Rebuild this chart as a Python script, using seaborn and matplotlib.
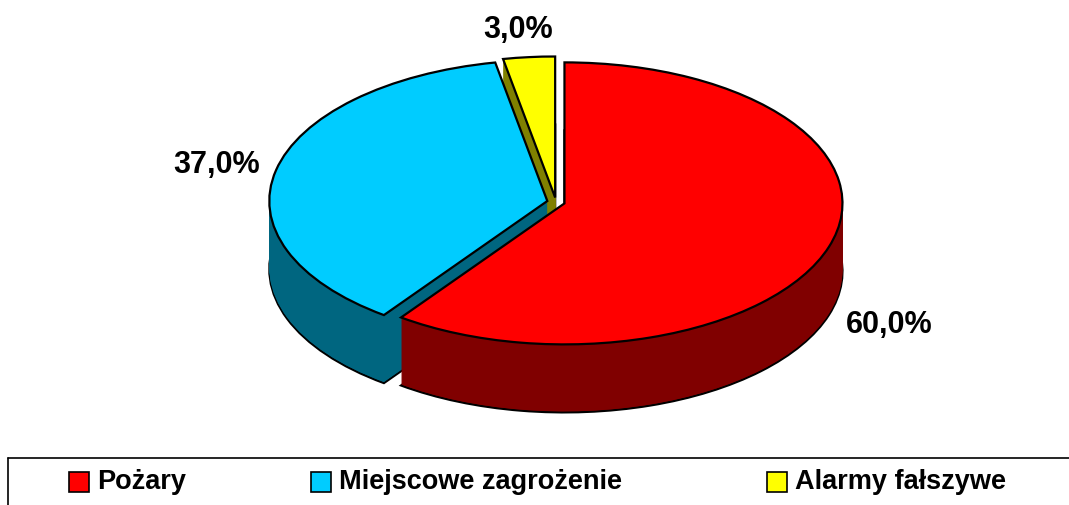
import matplotlib
matplotlib.use("Agg")
import matplotlib.pyplot as plt
import seaborn as sns
from matplotlib.patches import Rectangle

categories = ["Pożary", "Miejscowe zagrożenie", "Alarmy fałszywe"]
shares = [60.0, 37.0, 3.0]
top_colors = ["#ff0000", "#00ccff", "#ffff00"]
side_colors = ["#800000", "#006680", "#808000"]

sns.set_theme(style="white")
plt.rcParams['font.family'] = ['Liberation Sans', 'DejaVu Sans']

W, H = 1069, 506
fig = plt.figure(figsize=(W / 100, H / 100), dpi=100)
ax = fig.add_axes([0, 0, 1, 1])

rx, ry = 278.0, 141.0
cx, cy = 556.0, 203.0
depth = 68
explode = [0.032, 0.032, 0.032]

xlim = (-cx / rx, (W - cx) / rx)
ylim = ((cy - H) / ry, cy / ry)

# wedges go back to front so the red one covers the others
for i in [2, 1, 0]:
    vals = [shares[i], 100 - shares[i]]
    start = 90 - sum(shares[:i]) * 3.6
    for d in range(depth, -1, -1):
        top = d == 0
        edge = "black" if (top or d == depth) else "none"
        wedges, _ = ax.pie(vals, startangle=start, counterclock=False, radius=1,
                           center=(0, -d / ry), explode=[explode[i], 0],
                           colors=[top_colors[i] if top else side_colors[i], "none"],
                           wedgeprops=dict(linewidth=1.6 if edge == "black" else 0, edgecolor=edge),
                           frame=True)
        wedges[1].set_visible(False)

ax.set_aspect("auto")
ax.set_xlim(xlim)
ax.set_ylim(ylim)
ax.set_xticks([])
ax.set_yticks([])
ax.axis("off")

def px_text(x, y, s, size, ha="center"):
    fig.text(x / W, 1 - y / H, s, fontsize=size, fontweight="bold", ha=ha, va="center", color="black")

label_pos = [(889, 325), (217, 165), (518, 30)]
for (x, y), v in zip(label_pos, shares):
    px_text(x, y, f"{v:.1f}%".replace(".", ","), 22)

# legend box, open at the bottom and the right like the original
fig.add_artist(plt.Line2D([8 / W, 1], [1 - 459 / H, 1 - 459 / H], color="black", lw=1.2))
fig.add_artist(plt.Line2D([8 / W, 8 / W], [1 - 459 / H, 0], color="black", lw=1.2))
swatch_x = [69, 311, 767]
for x, name, c in zip(swatch_x, categories, top_colors):
    fig.add_artist(Rectangle((x / W, 1 - 493 / H), 20 / W, 20 / H, transform=fig.transFigure,
                             facecolor=c, edgecolor="black", lw=1.2))
    px_text(x + 28, 482, name, 19.5, ha="left")

fig.savefig("out.png", dpi=100)
